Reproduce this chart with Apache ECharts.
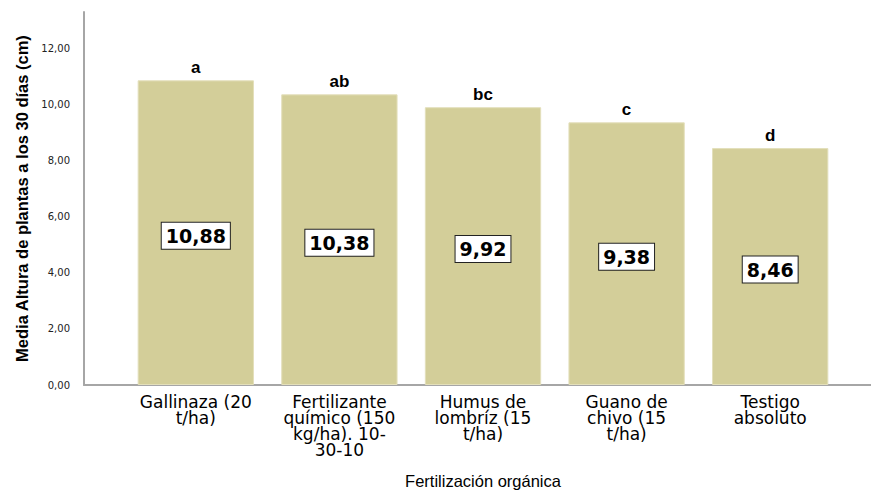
<!DOCTYPE html>
<html>
<head>
<meta charset="utf-8">
<script src="https://cdn.jsdelivr.net/npm/echarts@6/dist/echarts.min.js"></script>
<style>
  html, body { margin: 0; padding: 0; background: #fff; }
  #chart { width: 871px; height: 496px; }
</style>
</head>
<body>
<div id="chart"></div>
<script>
const categories = [
  'Gallinaza (20\nt/ha)',
  'Fertilizante\nquímico (150\nkg/ha). 10-\n30-10',
  'Humus de\nlombríz (15\nt/ha)',
  'Guano de\nchivo (15\nt/ha)',
  'Testigo\nabsoluto'
];
const means = [10.88, 10.38, 9.92, 9.38, 8.46];
const groups = ['a', 'ab', 'bc', 'c', 'd'];

const fmt = v => v.toFixed(2).replace('.', ',');

const chart = echarts.init(document.getElementById('chart'), null, {renderer: 'svg'});

chart.setOption({
  animation: false,
  grid: [
    {left: 124, right: 29, top: 12, bottom: 111},
    {left: 84, right: 0, top: 12, bottom: 111}
  ],
  xAxis: [
    {
      type: 'category',
      gridIndex: 0,
      data: categories,
      axisLine: {show: false},
      axisTick: {show: false},
      axisLabel: {
        margin: 9,
        fontFamily: 'DejaVu Sans',
        fontSize: 17,
        lineHeight: 16,
        color: '#000',
        interval: 0
      },
      name: 'Fertilización orgánica',
      nameLocation: 'middle',
      nameGap: 87,
      nameTextStyle: {fontFamily: 'Liberation Sans', fontSize: 16.5, color: '#000'}
    },
    {
      type: 'value',
      gridIndex: 1,
      axisLine: {show: true, lineStyle: {color: '#a6a6a6', width: 2}},
      axisTick: {show: false},
      axisLabel: {show: false},
      splitLine: {show: false}
    }
  ],
  yAxis: [
    {
      type: 'value',
      gridIndex: 0,
      min: 0,
      max: 13.32,
      interval: 2,
      offset: 40,
      axisLine: {show: true, lineStyle: {color: '#a6a6a6', width: 2}},
      axisTick: {show: false},
      splitLine: {show: false},
      axisLabel: {
        showMaxLabel: false,
        margin: 14,
        fontFamily: 'DejaVu Sans',
        fontSize: 10,
        color: '#222',
        formatter: v => fmt(v)
      },
      name: 'Media Altura de plantas a los 30 días (cm)',
      nameLocation: 'middle',
      nameGap: 52,
      nameTextStyle: {fontFamily: 'Liberation Sans', fontSize: 16.5, fontWeight: 'bold', color: '#000'}
    },
    {
      type: 'value',
      gridIndex: 1,
      show: false
    }
  ],
  series: [
    {
      type: 'bar',
      xAxisIndex: 0,
      yAxisIndex: 0,
      data: means,
      barCategoryGap: '19%',
      itemStyle: {color: '#d3ce99', borderColor: '#e3dfbb', borderWidth: 1},
      label: {
        show: true,
        position: 'inside',
        offset: [0, 3],
        formatter: p => fmt(p.value),
        fontFamily: 'DejaVu Sans',
        fontWeight: 'bold',
        fontSize: 19,
        color: '#000',
        backgroundColor: '#fff',
        borderColor: '#222',
        borderWidth: 1,
        padding: [4, 4, 3, 4]
      }
    },
    {
      type: 'bar',
      xAxisIndex: 0,
      yAxisIndex: 0,
      data: means,
      barGap: '-100%',
      barCategoryGap: '19%',
      itemStyle: {color: 'rgba(0,0,0,0)'},
      label: {
        show: true,
        position: 'top',
        distance: 4,
        formatter: p => groups[p.dataIndex],
        fontFamily: 'Liberation Sans',
        fontWeight: 'bold',
        fontSize: 17,
        color: '#000'
      }
    }
  ]
});
</script>
</body>
</html>
